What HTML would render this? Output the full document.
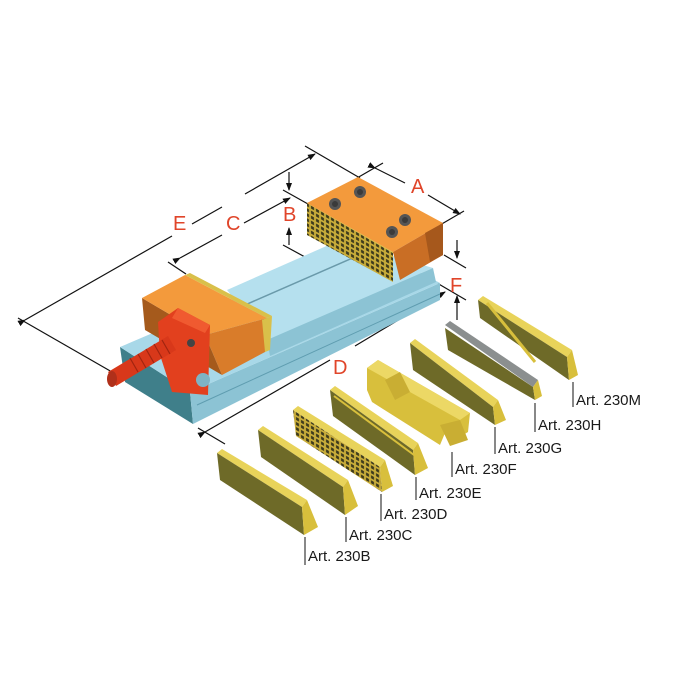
<!DOCTYPE html>
<html><head><meta charset="utf-8"><style>
html,body{margin:0;padding:0;background:#fff;}
svg{display:block}
.lbl{font-family:"Liberation Sans",sans-serif;font-size:15px;fill:#1a1a1a;}
.dim{font-family:"Liberation Sans",sans-serif;font-size:20px;fill:#e0452a;}
</style></head><body>
<svg width="690" height="690" viewBox="0 0 690 690" xmlns="http://www.w3.org/2000/svg">
<defs>
<marker id="ar" markerWidth="8" markerHeight="8" refX="7" refY="4" orient="auto" markerUnits="userSpaceOnUse"><path d="M0,1 L8,4 L0,7 z" fill="#111"/></marker>
<pattern id="grid" width="5" height="5" patternUnits="userSpaceOnUse" patternTransform="skewY(30)"><rect width="5" height="5" fill="#c9ad3a"/><rect x="1" y="1" width="3" height="3" fill="#3d3a1c"/></pattern>
</defs>

<g stroke="#111" stroke-width="1.2" fill="none">
<line x1="18" y1="318" x2="112" y2="372"/>
<line x1="305" y1="146" x2="360" y2="178"/>
<line x1="25" y1="320" x2="172" y2="236" marker-start="url(#ar)"/>
<line x1="192" y1="224" x2="222" y2="207"/>
<line x1="245" y1="194" x2="315" y2="154" marker-end="url(#ar)"/>
<line x1="168" y1="262" x2="186" y2="274"/>
<line x1="180" y1="258" x2="222" y2="235" marker-start="url(#ar)"/>
<line x1="244" y1="223" x2="290" y2="198" marker-end="url(#ar)"/>
<line x1="283" y1="190" x2="308" y2="204"/>
<line x1="283" y1="245" x2="305" y2="257"/>
<line x1="289" y1="172" x2="289" y2="190" marker-end="url(#ar)"/>
<line x1="289" y1="245" x2="289" y2="228" marker-end="url(#ar)"/>
<line x1="357" y1="178" x2="383" y2="163"/>
<line x1="440" y1="225" x2="464" y2="211"/>
<line x1="375" y1="168" x2="405" y2="183" marker-start="url(#ar)"/>
<line x1="428" y1="195" x2="460" y2="214" marker-end="url(#ar)"/>
<line x1="444" y1="255" x2="466" y2="268"/>
<line x1="437" y1="283" x2="466" y2="300"/>
<line x1="457" y1="240" x2="457" y2="258" marker-end="url(#ar)"/>
<line x1="457" y1="320" x2="457" y2="296" marker-end="url(#ar)"/>
<line x1="198" y1="428" x2="225" y2="444"/>
<line x1="205" y1="432" x2="330" y2="360" marker-start="url(#ar)"/>
<line x1="355" y1="346" x2="445" y2="292" marker-end="url(#ar)"/>
</g>
<text class="dim" x="173" y="230">E</text>
<text class="dim" x="226" y="230">C</text>
<text class="dim" x="283" y="221">B</text>
<text class="dim" x="411" y="193">A</text>
<text class="dim" x="450" y="292">F</text>
<text class="dim" x="333" y="374">D</text>

<!-- base -->
<polygon points="120,347 190,392 193,424 125,382" fill="#3f7f8a"/>
<polygon points="190,392 440,283 440,300 193,424" fill="#8cc3d4"/>
<polygon points="120,347 190,392 440,283 400,262 230,300" fill="#a8d8e8"/>
<!-- rail -->
<polygon points="227,290 340,240 433,268 267,340" fill="#b5e0ee"/>
<polygon points="267,340 433,268 436,282 270,356" fill="#8cc3d4"/>
<line x1="245" y1="305" x2="380" y2="246" stroke="#6a9aaa" stroke-width="1.5"/>
<line x1="197" y1="405" x2="440" y2="294" stroke="#5f9db0" stroke-width="1"/>
<circle cx="190" cy="382" r="7" fill="#6a9fb0"/>

<!-- fixed jaw -->
<polygon points="307,203 393,252 393,282 307,235" fill="url(#grid)"/>
<polygon points="307,203 393,252 396,255 310,205" fill="#d9c04a"/>
<polygon points="307,203 358,177 443,223 393,252" fill="#f39a3c"/>
<polygon points="393,252 443,223 443,255 400,280" fill="#c96e25"/>
<polygon points="425,233 443,223 443,255 430,262" fill="#a6581c"/>
<g fill="#555"><circle cx="360" cy="192" r="6"/><circle cx="335" cy="204" r="6"/><circle cx="405" cy="220" r="6"/><circle cx="392" cy="232" r="6"/></g>
<g fill="#3a3a3a"><circle cx="360" cy="192" r="3"/><circle cx="335" cy="204" r="3"/><circle cx="405" cy="220" r="3"/><circle cx="392" cy="232" r="3"/></g>

<!-- moving jaw -->
<polygon points="142,298 205,335 222,375 145,330" fill="#a55a1c"/>
<polygon points="205,335 267,318 265,352 222,375" fill="#d97c2a"/>
<polygon points="142,298 185,275 267,318 205,335" fill="#f39a3c"/>
<polygon points="185,275 190,273 272,316 267,318" fill="#d9c04a"/>
<polygon points="262,320 272,316 270,350 265,352" fill="#d9c04a"/>
<polygon points="158,322 178,308 210,325 208,395 172,392 160,355" fill="#e2401e"/>
<polygon points="178,308 210,325 205,333 172,318" fill="#f05a30"/>
<polygon points="108,372 168,336 176,350 116,386" fill="#d8381a"/>
<g stroke="#a02510" stroke-width="1.2">
<line x1="130" y1="358" x2="138" y2="372"/><line x1="138" y1="354" x2="146" y2="368"/><line x1="146" y1="349" x2="154" y2="363"/><line x1="154" y1="344" x2="162" y2="358"/><line x1="162" y1="340" x2="170" y2="354"/>
</g>
<ellipse cx="112" cy="379" rx="5" ry="8" fill="#b0301a"/>
<circle cx="191" cy="343" r="4" fill="#444"/>
<circle cx="203" cy="380" r="7" fill="#7fb3c4"/>

<!-- jaw blocks -->
<polygon points="217,453 222,449 307,500 302,507" fill="#e8d35a"/>
<polygon points="217,453 302,507 304,535 220,480" fill="#6e6a28"/>
<polygon points="302,507 307,500 318,527 304,535" fill="#d8bf3c"/>
<polygon points="258,430 263,426 348,480 343,487" fill="#e8d35a"/>
<polygon points="258,430 343,487 345,515 261,457" fill="#6e6a28"/>
<polygon points="343,487 348,480 358,506 345,515" fill="#d8bf3c"/>
<polygon points="293,410 298,406 385,460 380,467" fill="#e8d35a"/>
<polygon points="293,410 380,467 382,492 296,436" fill="url(#grid)"/>
<polygon points="380,467 385,460 393,486 382,492" fill="#d8bf3c"/>
<polygon points="330,390 335,386 418,443 413,450" fill="#e8d35a"/>
<polygon points="330,390 413,450 415,475 333,416" fill="#6e6a28"/>
<line x1="334" y1="396" x2="414" y2="455" stroke="#d8bf3c" stroke-width="2"/>
<polygon points="413,450 418,443 428,468 415,475" fill="#d8bf3c"/>
<!-- F -->
<polygon points="367,368 378,360 470,413 468,432 455,440 445,433 440,445 372,402 367,390" fill="#d8bf3c"/>
<polygon points="367,368 378,360 470,413 460,420" fill="#ecd865"/>
<polygon points="385,380 400,372 410,392 395,400" fill="#c9ae33"/>
<polygon points="440,425 460,420 468,440 450,446" fill="#c9ae33"/>
<polygon points="410,343 415,339 498,400 493,407" fill="#e8d35a"/>
<polygon points="410,343 493,407 495,425 413,370" fill="#6e6a28"/>
<polygon points="493,407 498,400 506,420 495,425" fill="#d8bf3c"/>
<polygon points="445,325 450,321 538,380 533,387" fill="#8b8f8f"/>
<polygon points="445,328 533,387 535,400 448,350" fill="#6e6a28"/>
<polygon points="533,387 538,380 542,396 535,400" fill="#d8bf3c"/>
<polygon points="478,300 483,296 572,350 567,357" fill="#e8d35a"/>
<polygon points="478,300 567,357 569,380 480,318" fill="#6e6a28"/>
<line x1="487" y1="303" x2="535" y2="362" stroke="#d8bf3c" stroke-width="3"/>
<polygon points="567,357 572,350 578,375 569,380" fill="#d8bf3c"/>

<g stroke="#111" stroke-width="1">
<line x1="305" y1="537" x2="305" y2="565"/>
<line x1="346" y1="517" x2="346" y2="542"/>
<line x1="381" y1="494" x2="381" y2="521"/>
<line x1="416" y1="477" x2="416" y2="500"/>
<line x1="452" y1="452" x2="452" y2="477"/>
<line x1="495" y1="427" x2="495" y2="454"/>
<line x1="535" y1="403" x2="535" y2="432"/>
<line x1="573" y1="382" x2="573" y2="407"/>
</g>
<text class="lbl" x="308" y="561">Art. 230B</text>
<text class="lbl" x="349" y="540">Art. 230C</text>
<text class="lbl" x="384" y="519">Art. 230D</text>
<text class="lbl" x="419" y="498">Art. 230E</text>
<text class="lbl" x="455" y="474">Art. 230F</text>
<text class="lbl" x="498" y="453">Art. 230G</text>
<text class="lbl" x="538" y="430">Art. 230H</text>
<text class="lbl" x="576" y="405">Art. 230M</text>
</svg>
</body></html>
